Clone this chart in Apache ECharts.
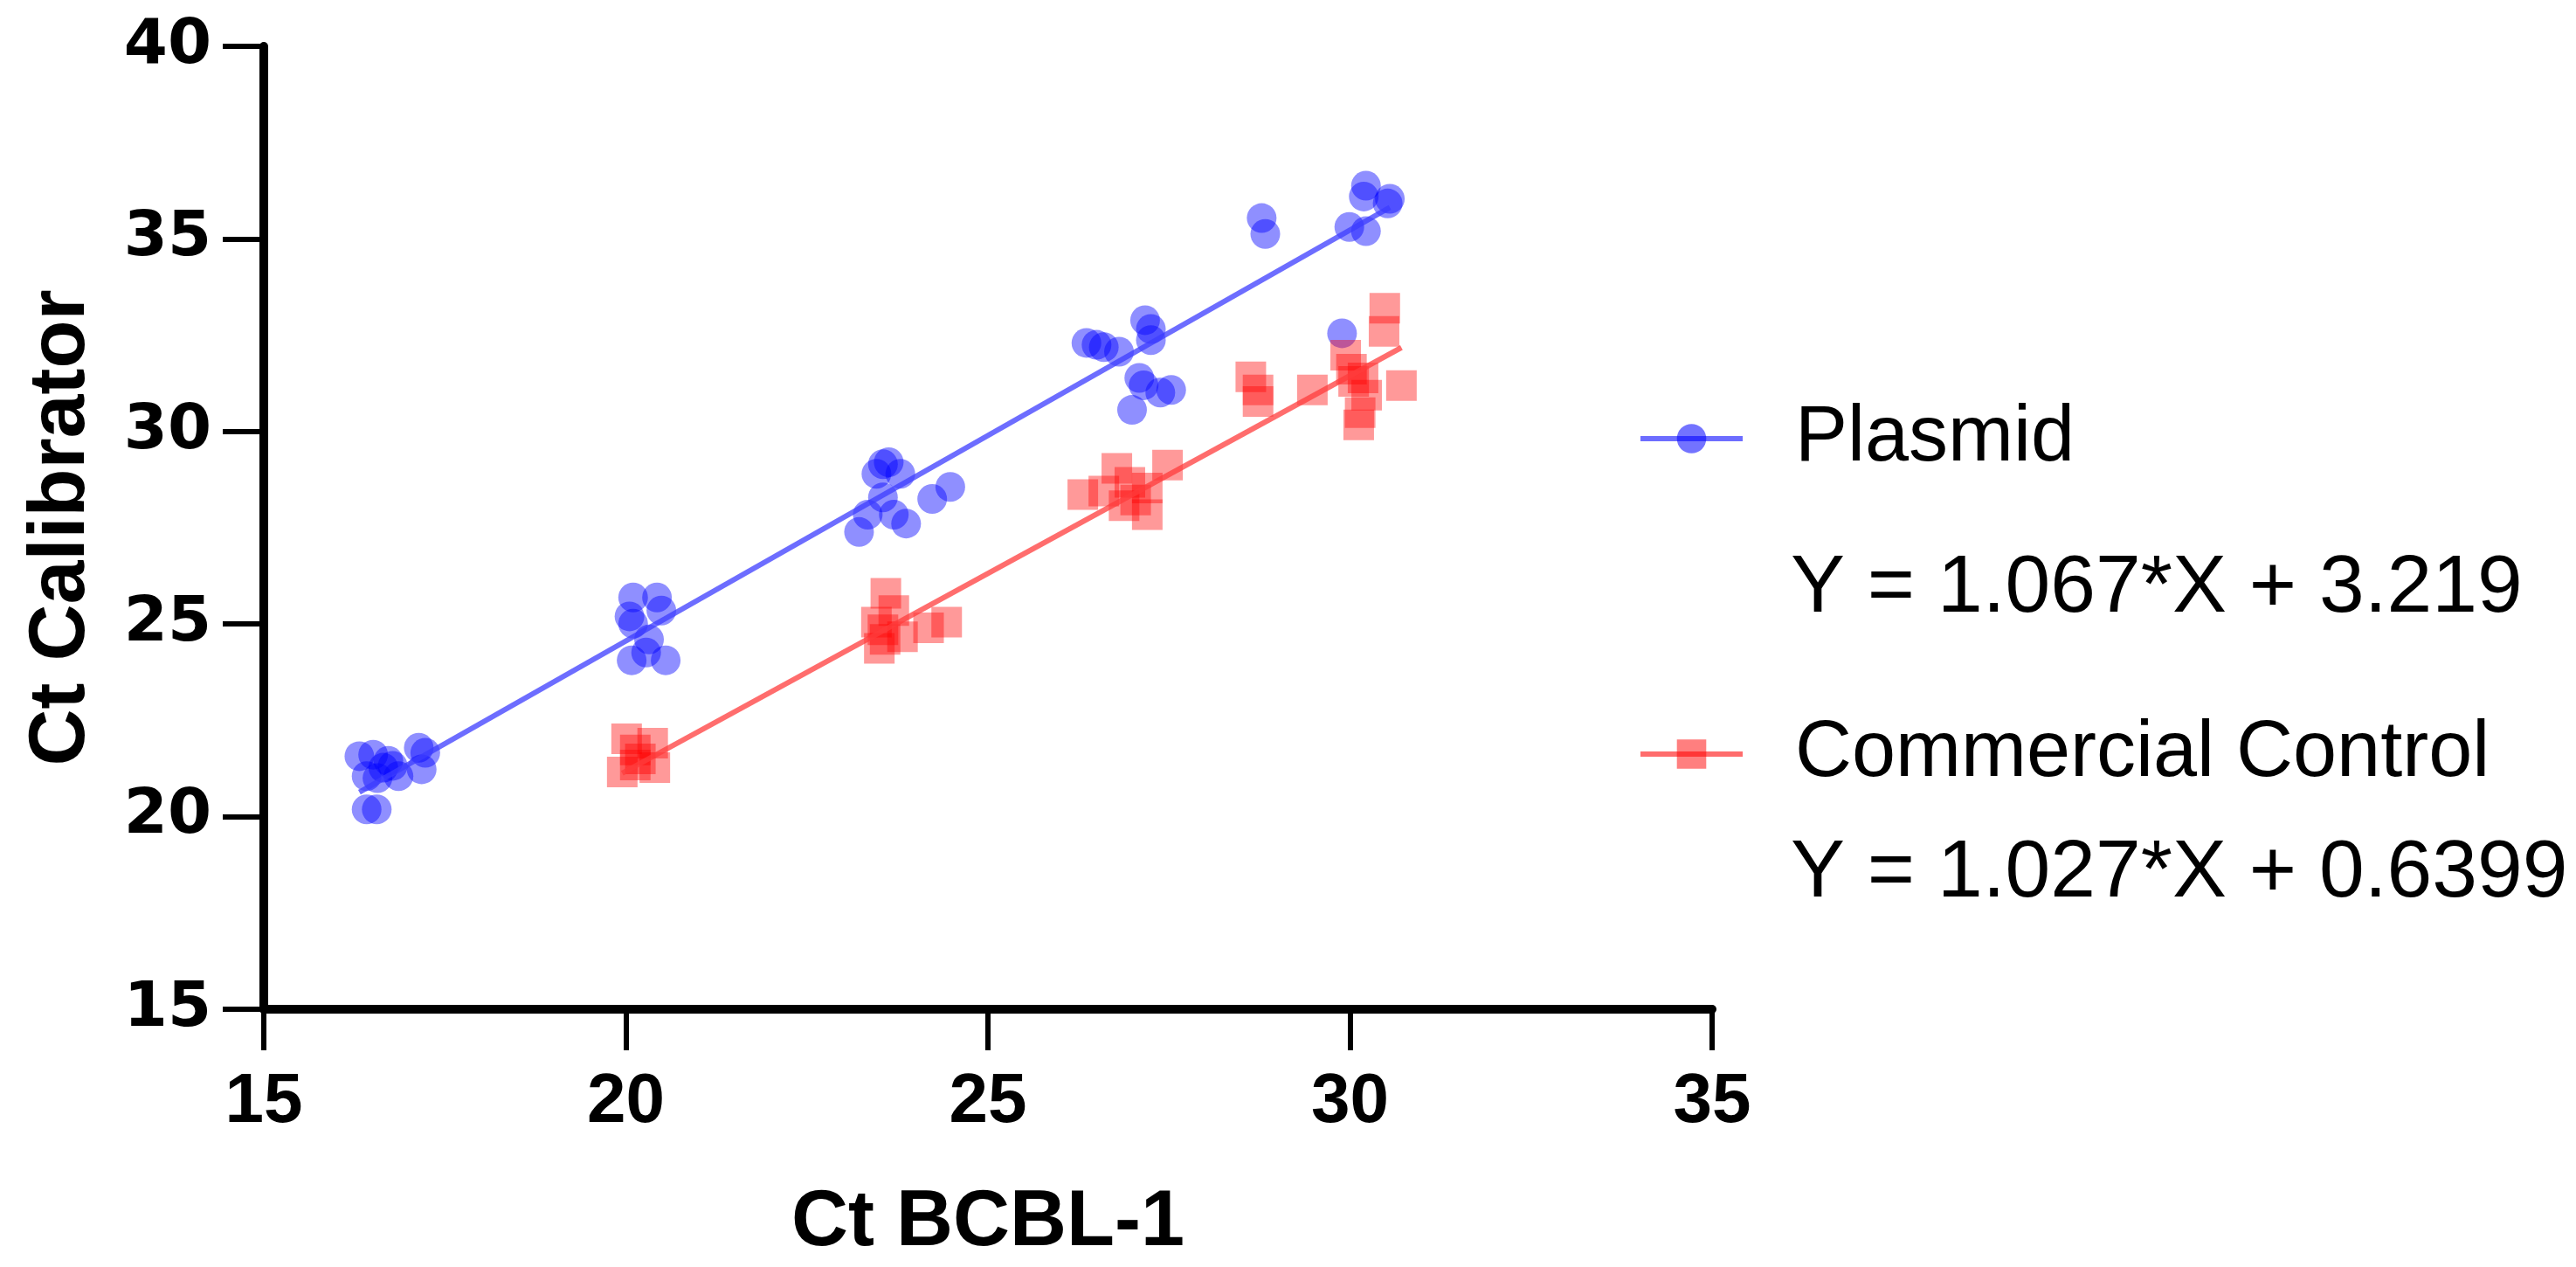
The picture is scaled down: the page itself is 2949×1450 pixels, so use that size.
<!DOCTYPE html>
<html>
<head>
<meta charset="utf-8">
<title>Ct Calibrator vs Ct BCBL-1</title>
<script src="https://cdn.jsdelivr.net/npm/echarts@6/dist/echarts.min.js"></script>
<style>
  html, body { margin: 0; padding: 0; background: #fff; }
  #main { width: 2949px; height: 1450px; }
</style>
</head>
<body>
<div id="main"></div>
<script>
// values
var plasmidX = [16.32, 16.51, 16.42, 16.57, 16.78, 16.86, 17.14, 17.23, 17.18, 16.42, 16.56, 16.65, 16.72,
                20.10, 20.43, 20.49, 20.10, 20.05, 20.32, 20.08, 20.28, 20.55,
                23.55, 23.63, 23.79, 23.46, 23.55, 23.34, 23.22, 23.70, 23.87, 24.23, 24.48,
                26.36, 26.50, 26.60, 26.81, 27.17, 27.25, 27.25, 27.09, 27.53, 27.38, 26.99, 27.15,
                28.78, 28.83, 29.89, 30.22, 30.19, 30.55, 30.52, 29.99, 30.22];
var plasmidY = [21.57, 21.61, 21.05, 21.00, 21.32, 21.05, 21.79, 21.66, 21.23, 20.19, 20.19, 21.27, 21.45,
                25.69, 25.69, 25.35, 25.01, 25.20, 24.60, 24.06, 24.26, 24.06,
                29.15, 29.20, 28.90, 28.90, 28.29, 27.84, 27.39, 27.84, 27.61, 28.25, 28.56,
                32.30, 32.25, 32.19, 32.07, 32.89, 32.66, 32.37, 31.39, 31.08, 31.01, 30.56, 31.20,
                35.54, 35.13, 32.55, 36.38, 36.10, 36.04, 35.92, 35.31, 35.20];

var controlX = [20.01, 20.37, 20.13, 19.95, 20.40, 20.13, 20.20,
                23.59, 23.46, 23.58, 23.50, 23.82, 23.70, 24.18, 24.43, 23.55,
                26.31, 26.60, 26.78, 26.96, 27.04, 27.20, 27.20, 27.48, 26.88,
                28.63, 28.73, 28.73, 29.48, 29.94, 30.02, 30.18, 30.23, 30.14, 30.12, 30.71, 30.48, 30.47, 30.05];
var controlY = [22.02, 21.91, 21.73, 21.16, 21.27, 21.34, 21.50,
                25.80, 25.05, 24.60, 24.37, 24.67, 25.35, 24.90, 25.05, 24.85,
                28.36, 28.45, 29.04, 28.68, 28.22, 27.84, 28.53, 29.13, 28.07,
                31.42, 31.08, 30.78, 31.08, 31.98, 31.62, 31.39, 30.94, 30.49, 30.17, 31.19, 33.20, 32.60, 31.30];

// linear fits printed on the figure
var seriesNames = ['Plasmid', 'Commercial Control'];
var slopes = [1.067, 1.027];
var intercepts = [3.219, 0.6399];
var equations = ['Y = 1.067*X + 3.219', 'Y = 1.027*X + 0.6399'];

var xTicks = [15, 20, 25, 30, 35];
var yTicks = [15, 20, 25, 30, 35, 40];

function pairs(xs, ys) {
    return xs.map(function (x, i) { return [x, ys[i]]; });
}
function fitLine(xs, k) {
    var lo = Math.min.apply(null, xs), hi = Math.max.apply(null, xs);
    return [[lo, slopes[k] * lo + intercepts[k]], [hi, slopes[k] * hi + intercepts[k]]];
}

var FONT = '"Liberation Sans", Arial, sans-serif';
var blueFill = 'rgba(0,0,255,0.55)';
var redFill = 'rgba(255,0,0,0.5)';

var myChart = echarts.init(document.getElementById('main'));

var legendBase = {
    orient: 'vertical',
    left: 1870,
    itemWidth: 117,
    itemHeight: 42,
    selectedMode: false,
    lineStyle: { width: 6 },
    textStyle: { fontFamily: FONT, fontSize: 90, color: '#000', padding: [0, 0, 0, 55] }
};

var option = {
    animation: false,
    backgroundColor: '#fff',
    grid: { left: 302, right: 989, top: 53, bottom: 293 },
    legend: [
        Object.assign({}, legendBase, { top: 452, data: [seriesNames[0]] }),
        Object.assign({}, legendBase, { top: 813, data: [seriesNames[1]] })
    ],
    xAxis: {
        type: 'value',
        min: xTicks[0], max: xTicks[xTicks.length - 1], interval: 5,
        name: 'Ct BCBL-1',
        nameLocation: 'middle',
        nameGap: 200,
        nameTextStyle: { fontFamily: FONT, fontSize: 90, fontWeight: 'bold', color: '#000' },
        axisLine: { onZero: false, lineStyle: { color: '#000', width: 10 } },
        axisTick: { length: 47, lineStyle: { color: '#000', width: 6 } },
        axisLabel: { margin: 67, fontFamily: FONT, fontSize: 80, fontWeight: 'bold', color: '#000' },
        splitLine: { show: false }
    },
    yAxis: {
        type: 'value',
        min: yTicks[0], max: yTicks[yTicks.length - 1], interval: 5,
        name: 'Ct Calibrator',
        nameLocation: 'middle',
        nameGap: 186,
        nameTextStyle: { fontFamily: FONT, fontSize: 90, fontWeight: 'bold', color: '#000' },
        axisLine: { onZero: false, lineStyle: { color: '#000', width: 10 } },
        axisTick: { length: 47, lineStyle: { color: '#000', width: 6 } },
        axisLabel: { margin: 60, fontFamily: '"DejaVu Sans", sans-serif', fontSize: 72, fontWeight: 'bold', color: '#000' },
        splitLine: { show: false }
    },
    graphic: [
        { type: 'text', left: 2050, top: 628, style: { text: equations[0], font: '93px ' + FONT, fill: '#000' } },
        { type: 'text', left: 2050, top: 954, style: { text: equations[1], font: '93px ' + FONT, fill: '#000' } }
    ],
    series: [
        {
            name: seriesNames[0], type: 'line', z: 3,
            data: fitLine(plasmidX, 0),
            symbol: 'circle', showSymbol: false,
            itemStyle: { color: blueFill },
            lineStyle: { color: 'rgba(60,60,255,0.75)', width: 6 }
        },
        {
            name: seriesNames[1], type: 'line', z: 3,
            data: fitLine(controlX, 1),
            symbol: 'rect', showSymbol: false,
            itemStyle: { color: redFill },
            lineStyle: { color: 'rgba(255,60,60,0.75)', width: 6 }
        },
        {
            name: seriesNames[0], type: 'scatter', z: 2,
            data: pairs(plasmidX, plasmidY),
            symbol: 'circle', symbolSize: 34,
            itemStyle: { color: blueFill }
        },
        {
            name: seriesNames[1], type: 'scatter', z: 2,
            data: pairs(controlX, controlY),
            symbol: 'rect', symbolSize: 35,
            itemStyle: { color: redFill }
        }
    ]
};

myChart.setOption(option);
</script>
</body>
</html>
